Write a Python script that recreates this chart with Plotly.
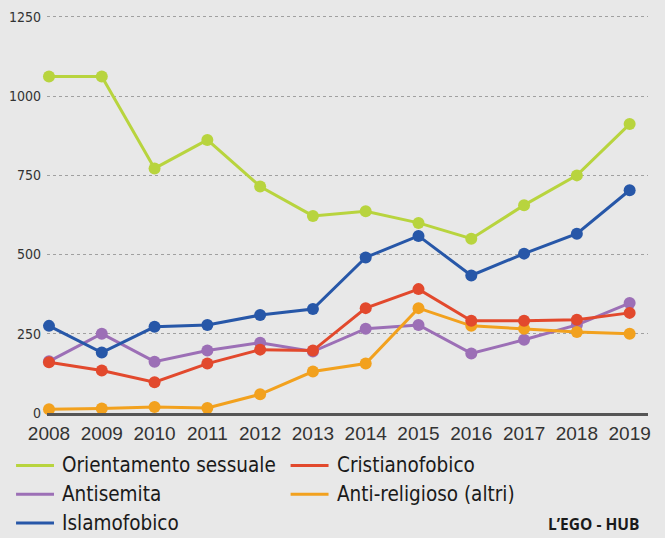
import plotly.graph_objects as go

years = [2008, 2009, 2010, 2011, 2012, 2013, 2014, 2015, 2016, 2017, 2018, 2019]
orientamento = [1062, 1062, 772, 862, 715, 622, 637, 600, 550, 656, 750, 912]
cristianofobico = [160, 134, 97, 156, 200, 197, 331, 391, 291, 291, 294, 316]
antisemita = [163, 250, 162, 197, 222, 194, 266, 278, 188, 231, 278, 347]
antireligioso = [12, 14, 19, 16, 59, 131, 156, 331, 275, 266, 256, 250]
islamofobico = [275, 191, 272, 278, 309, 328, 491, 559, 434, 503, 566, 703]

y_ticks = [0, 250, 500, 750, 1000, 1250]

series = [
    ("Orientamento sessuale", orientamento, "#b8d43e"),
    ("Cristianofobico", cristianofobico, "#e2492d"),
    ("Antisemita", antisemita, "#9c6fb6"),
    ("Anti-religioso (altri)", antireligioso, "#f2a11e"),
    ("Islamofobico", islamofobico, "#2757a8"),
]

W, H = 665, 538
L, R, T, B = 46, 17, 9, 125
PW = W - L - R
PH = H - T - B

fig = go.Figure()
for i in [2, 3, 1, 4, 0]:
    name, vals, col = series[i]
    fig.add_trace(go.Scatter(
        x=years, y=vals, name=name, mode="lines+markers",
        line=dict(color=col, width=3),
        marker=dict(color=col, size=12),
        cliponaxis=False, showlegend=False,
    ))

def px_x(px):
    return (px - L) / PW

def px_y(py):
    return (H - B - py) / PH

narrow = "Liberation Sans Narrow, DejaVu Sans Condensed, Arial Narrow, sans-serif"

# manual legend
legend_pos = [(15, 466), (290, 466), (15, 495), (290, 495), (15, 524)]
shapes = []
annotations = []
for (name, vals, col), (lx, ly) in zip(series, legend_pos):
    shapes.append(dict(type="line", xref="paper", yref="paper",
                       x0=px_x(lx), x1=px_x(lx + 38), y0=px_y(ly), y1=px_y(ly),
                       line=dict(color=col, width=3)))
    annotations.append(dict(xref="paper", yref="paper", x=px_x(lx + 44), y=px_y(ly),
                            text=name, showarrow=False, xanchor="left", yanchor="middle",
                            font=dict(family=narrow, size=20.5, color="#1a1a1a")))
annotations.append(dict(xref="paper", yref="paper", x=px_x(641), y=px_y(525),
                        text="<b>L’EGO - HUB</b>", showarrow=False, xanchor="right", yanchor="middle",
                        font=dict(family="Open Sans, Liberation Sans, sans-serif", size=15.5, color="#1a1a1a")))

fig.update_layout(
    width=W, height=H,
    margin=dict(l=L, r=R, t=T, b=B),
    paper_bgcolor="#e8e8e8", plot_bgcolor="#e8e8e8",
    showlegend=False,
    shapes=shapes, annotations=annotations,
    xaxis=dict(range=[2008 - 2 / 53.05, 2008 + 602 / 53.05], tickmode="array", tickvals=years,
               ticktext=[str(y) for y in years], showgrid=False, zeroline=False,
               showline=True, linecolor="#555555", linewidth=2.5,
               tickfont=dict(family="Liberation Sans, Arial, sans-serif", size=19, color="#333333"),
               ticks="", ticklabelstandoff=1),
    yaxis=dict(range=[0, 1250 + 4 / 0.32], tickmode="array", tickvals=y_ticks,
               showgrid=True, gridcolor="#a0a0a0", griddash="dot", gridwidth=1,
               zeroline=False, showline=False, ticks="",
               tickfont=dict(family=narrow, size=14, color="#333333"),
               ticklabelstandoff=5),
)

fig.write_html("out.html")
